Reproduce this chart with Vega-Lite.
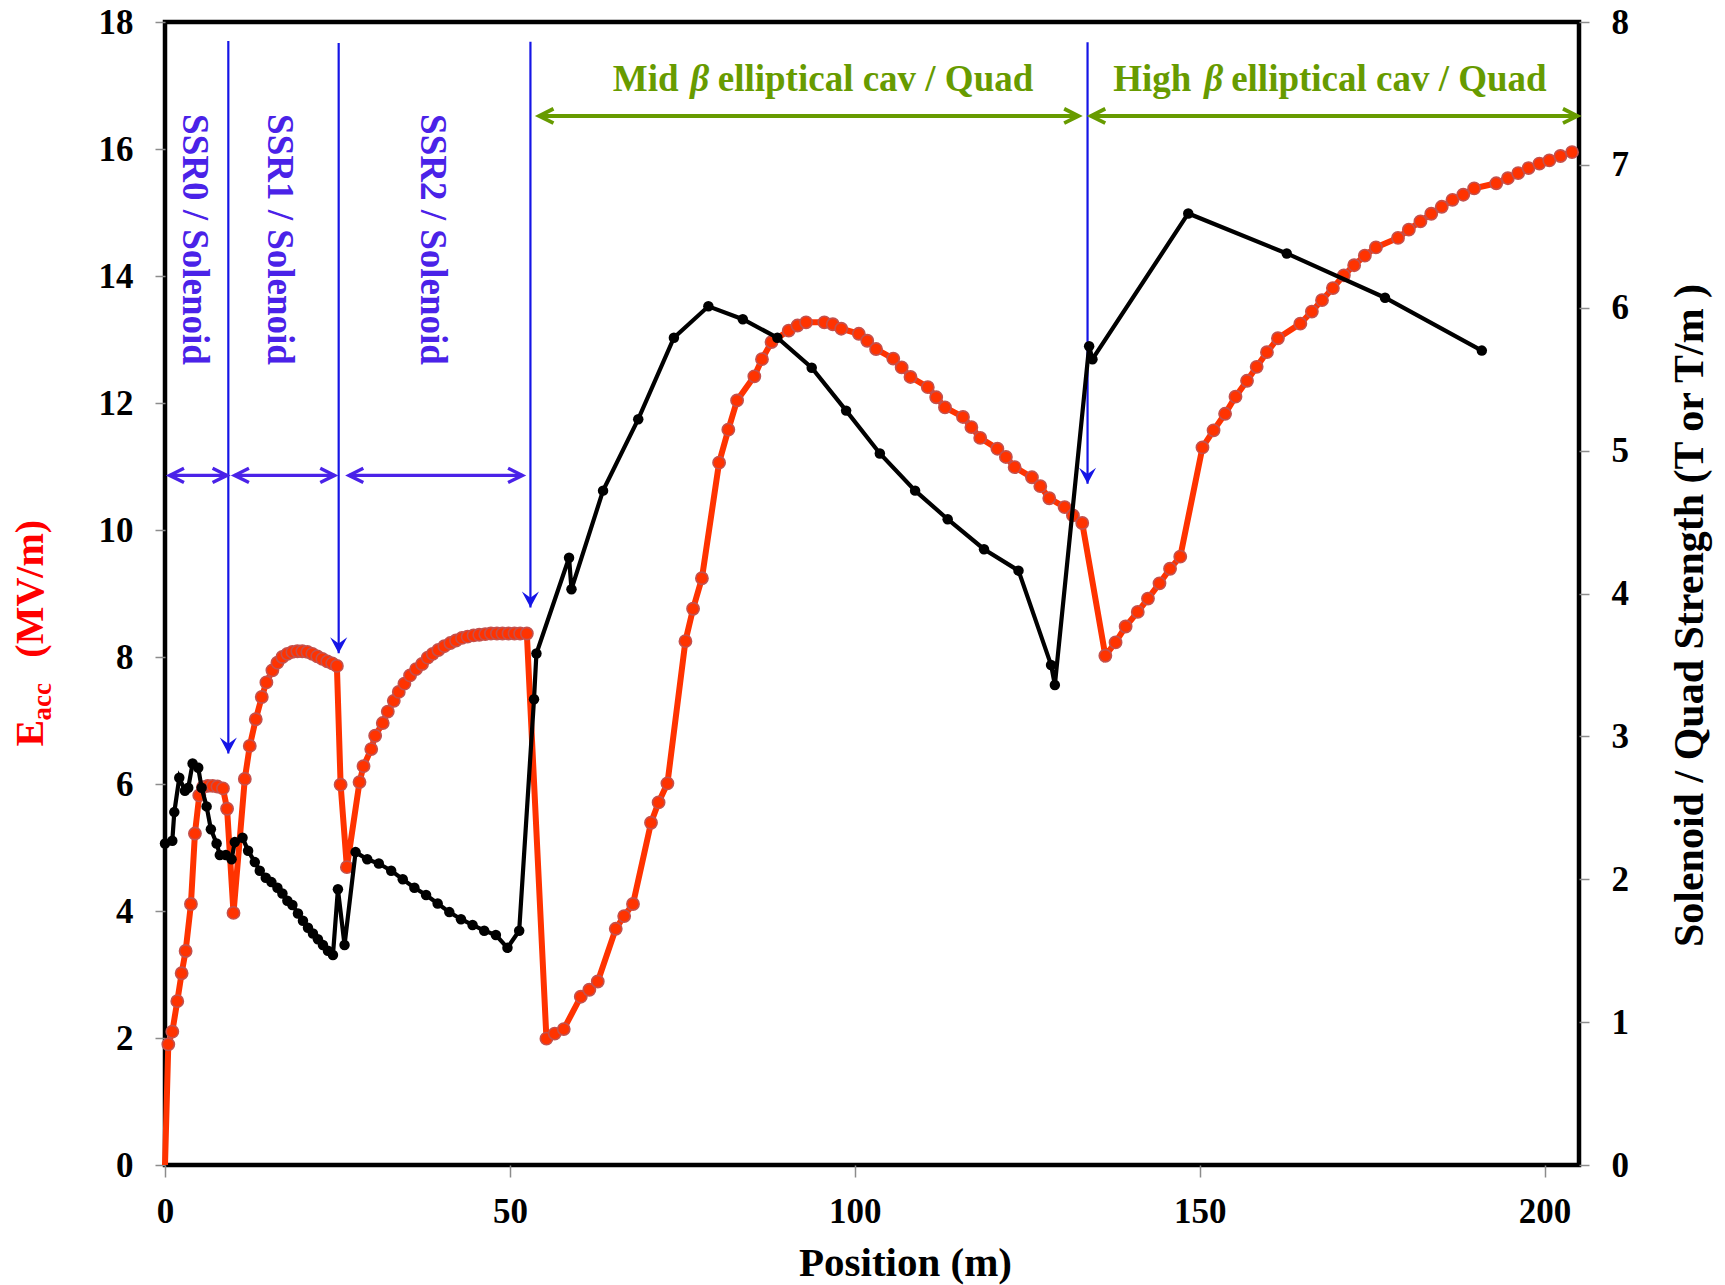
{
  "$schema": "https://vega.github.io/schema/vega-lite/v6.json",
  "width": 1414,
  "height": 1143,
  "autosize": {"type": "none"},
  "padding": {"left": 165, "top": 22, "right": 146, "bottom": 120},
  "background": "white",
  "config": {
    "font": "Liberation Serif",
    "view": {"stroke": "#000000", "strokeWidth": 4.5},
    "axis": {
      "grid": false,
      "domain": false,
      "format": "d",
      "tickColor": "#8c8c8c",
      "tickWidth": 1.5,
      "labelFont": "Liberation Serif",
      "labelFontWeight": "bold",
      "labelFontSize": 35,
      "labelColor": "#000000",
      "labelFlush": false,
      "labelOverlap": false,
      "titleFont": "Liberation Serif",
      "titleFontWeight": "bold",
      "titleFontSize": 41,
      "titleColor": "#000000"
    }
  },
  "datasets": {
    "eacc": [
      {"x": 0, "E": 0}, {"x": 0.48, "E": 1.9}, {"x": 1.06, "E": 2.1}, {"x": 1.78, "E": 2.58}, {"x": 2.41, "E": 3.02},
      {"x": 2.99, "E": 3.37}, {"x": 3.76, "E": 4.11}, {"x": 4.34, "E": 5.22}, {"x": 4.97, "E": 5.82}, {"x": 5.5, "E": 5.95},
      {"x": 6.2, "E": 5.97}, {"x": 6.9, "E": 5.97}, {"x": 7.6, "E": 5.96}, {"x": 8.4, "E": 5.93}, {"x": 9.0, "E": 5.61},
      {"x": 9.93, "E": 3.97}, {"x": 11.57, "E": 6.08}, {"x": 12.29, "E": 6.6}, {"x": 13.16, "E": 7.02}, {"x": 14.03, "E": 7.37},
      {"x": 14.7, "E": 7.6}, {"x": 15.57, "E": 7.79}, {"x": 16.3, "E": 7.91}, {"x": 17.02, "E": 8.0}, {"x": 17.74, "E": 8.05},
      {"x": 18.47, "E": 8.08}, {"x": 19.19, "E": 8.09}, {"x": 19.91, "E": 8.09}, {"x": 20.64, "E": 8.08}, {"x": 21.36, "E": 8.05},
      {"x": 22.08, "E": 8.01}, {"x": 22.81, "E": 7.97}, {"x": 23.53, "E": 7.93}, {"x": 24.25, "E": 7.9}, {"x": 24.92, "E": 7.86},
      {"x": 25.46, "E": 5.99}, {"x": 26.37, "E": 4.69}, {"x": 28.2, "E": 6.03}, {"x": 28.78, "E": 6.28}, {"x": 29.9, "E": 6.55},
      {"x": 30.47, "E": 6.76}, {"x": 31.57, "E": 6.96}, {"x": 32.3, "E": 7.14}, {"x": 33.17, "E": 7.31}, {"x": 33.89, "E": 7.45},
      {"x": 34.71, "E": 7.58}, {"x": 35.53, "E": 7.71}, {"x": 36.4, "E": 7.81}, {"x": 37.27, "E": 7.89}, {"x": 38.09, "E": 7.99},
      {"x": 38.81, "E": 8.05}, {"x": 39.63, "E": 8.11}, {"x": 40.5, "E": 8.17}, {"x": 41.37, "E": 8.22}, {"x": 42.19, "E": 8.26},
      {"x": 43.06, "E": 8.3}, {"x": 43.87, "E": 8.32}, {"x": 44.74, "E": 8.34}, {"x": 45.56, "E": 8.35}, {"x": 46.43, "E": 8.36},
      {"x": 47.25, "E": 8.37}, {"x": 48.12, "E": 8.37}, {"x": 48.93, "E": 8.37}, {"x": 49.8, "E": 8.37}, {"x": 50.67, "E": 8.37},
      {"x": 51.49, "E": 8.37}, {"x": 52.46, "E": 8.37},
      {"x": 55.3, "E": 1.99}, {"x": 56.5, "E": 2.07}, {"x": 57.81, "E": 2.14}, {"x": 60.28, "E": 2.65}, {"x": 61.52, "E": 2.76},
      {"x": 62.74, "E": 2.89}, {"x": 65.35, "E": 3.72}, {"x": 66.57, "E": 3.92}, {"x": 67.85, "E": 4.11}, {"x": 70.46, "E": 5.39},
      {"x": 71.56, "E": 5.71}, {"x": 72.84, "E": 6.01}, {"x": 75.45, "E": 8.25}, {"x": 76.56, "E": 8.76}, {"x": 77.84, "E": 9.24},
      {"x": 80.33, "E": 11.06}, {"x": 81.67, "E": 11.58}, {"x": 82.94, "E": 12.04}, {"x": 85.44, "E": 12.42}, {"x": 86.55, "E": 12.69},
      {"x": 87.93, "E": 12.96}, {"x": 90.43, "E": 13.14}, {"x": 91.7, "E": 13.22}, {"x": 92.94, "E": 13.27}, {"x": 95.59, "E": 13.27},
      {"x": 96.82, "E": 13.24}, {"x": 98.04, "E": 13.17}, {"x": 100.59, "E": 13.09}, {"x": 101.81, "E": 12.98}, {"x": 103.09, "E": 12.85},
      {"x": 105.58, "E": 12.7}, {"x": 106.8, "E": 12.56}, {"x": 108.08, "E": 12.41}, {"x": 110.59, "E": 12.25}, {"x": 111.81, "E": 12.09},
      {"x": 113.08, "E": 11.93}, {"x": 115.69, "E": 11.78}, {"x": 116.91, "E": 11.62}, {"x": 118.19, "E": 11.45}, {"x": 120.68, "E": 11.28},
      {"x": 121.91, "E": 11.15}, {"x": 123.18, "E": 10.99}, {"x": 125.69, "E": 10.83}, {"x": 126.9, "E": 10.69}, {"x": 128.2, "E": 10.5},
      {"x": 130.43, "E": 10.36}, {"x": 131.63, "E": 10.23}, {"x": 132.98, "E": 10.11},
      {"x": 136.33, "E": 8.02}, {"x": 137.81, "E": 8.23}, {"x": 139.27, "E": 8.48}, {"x": 141.03, "E": 8.71}, {"x": 142.51, "E": 8.92},
      {"x": 144.18, "E": 9.16}, {"x": 145.71, "E": 9.39}, {"x": 147.19, "E": 9.58},
      {"x": 150.41, "E": 11.3}, {"x": 152.02, "E": 11.57}, {"x": 153.69, "E": 11.83}, {"x": 155.2, "E": 12.1}, {"x": 156.87, "E": 12.35},
      {"x": 158.27, "E": 12.57}, {"x": 159.76, "E": 12.8}, {"x": 161.35, "E": 13.02},
      {"x": 164.6, "E": 13.25}, {"x": 166.27, "E": 13.44}, {"x": 167.74, "E": 13.62}, {"x": 169.32, "E": 13.81}, {"x": 170.91, "E": 14.01},
      {"x": 172.4, "E": 14.17}, {"x": 173.95, "E": 14.32}, {"x": 175.56, "E": 14.45},
      {"x": 178.76, "E": 14.6}, {"x": 180.33, "E": 14.73}, {"x": 182.01, "E": 14.86}, {"x": 183.58, "E": 14.98}, {"x": 185.1, "E": 15.09},
      {"x": 186.66, "E": 15.2}, {"x": 188.22, "E": 15.28}, {"x": 189.8, "E": 15.38},
      {"x": 193.0, "E": 15.46}, {"x": 194.69, "E": 15.54}, {"x": 196.18, "E": 15.62}, {"x": 197.68, "E": 15.7}, {"x": 199.26, "E": 15.77},
      {"x": 200.7, "E": 15.82}, {"x": 202.31, "E": 15.89}, {"x": 203.99, "E": 15.95}
    ],
    "focusing": [
      {"x": 0, "B": 2.25}, {"x": 1.06, "B": 2.27}, {"x": 1.35, "B": 2.47}, {"x": 2.07, "B": 2.71}, {"x": 2.89, "B": 2.62},
      {"x": 3.37, "B": 2.64}, {"x": 4.0, "B": 2.81}, {"x": 4.82, "B": 2.78}, {"x": 5.31, "B": 2.64}, {"x": 6.03, "B": 2.51},
      {"x": 6.65, "B": 2.35}, {"x": 7.48, "B": 2.25}, {"x": 7.95, "B": 2.17}, {"x": 8.82, "B": 2.17}, {"x": 9.65, "B": 2.14},
      {"x": 10.12, "B": 2.26}, {"x": 11.24, "B": 2.29}, {"x": 12.05, "B": 2.2}, {"x": 13.02, "B": 2.12}, {"x": 13.74, "B": 2.06},
      {"x": 14.61, "B": 2.01}, {"x": 15.43, "B": 1.98}, {"x": 16.3, "B": 1.94}, {"x": 17.02, "B": 1.9}, {"x": 17.74, "B": 1.85},
      {"x": 18.47, "B": 1.82}, {"x": 19.28, "B": 1.76}, {"x": 20.0, "B": 1.71}, {"x": 20.73, "B": 1.66}, {"x": 21.45, "B": 1.62},
      {"x": 22.17, "B": 1.58}, {"x": 22.9, "B": 1.54}, {"x": 23.62, "B": 1.5}, {"x": 24.35, "B": 1.47}, {"x": 25.07, "B": 1.93},
      {"x": 26.03, "B": 1.54}, {"x": 27.63, "B": 2.19}, {"x": 29.32, "B": 2.14}, {"x": 31.0, "B": 2.11}, {"x": 32.79, "B": 2.06},
      {"x": 34.47, "B": 2.0}, {"x": 36.16, "B": 1.94}, {"x": 37.85, "B": 1.89}, {"x": 39.53, "B": 1.83}, {"x": 41.22, "B": 1.77},
      {"x": 42.91, "B": 1.72}, {"x": 44.59, "B": 1.68}, {"x": 46.28, "B": 1.64}, {"x": 47.97, "B": 1.61}, {"x": 49.65, "B": 1.52},
      {"x": 51.35, "B": 1.64}, {"x": 53.5, "B": 3.26}, {"x": 53.85, "B": 3.58}, {"x": 58.58, "B": 4.25}, {"x": 58.93, "B": 4.03},
      {"x": 63.51, "B": 4.72}, {"x": 68.61, "B": 5.22}, {"x": 73.78, "B": 5.79}, {"x": 78.78, "B": 6.01}, {"x": 83.77, "B": 5.92},
      {"x": 88.78, "B": 5.79}, {"x": 93.76, "B": 5.58}, {"x": 98.75, "B": 5.28}, {"x": 103.64, "B": 4.98}, {"x": 108.75, "B": 4.72},
      {"x": 113.47, "B": 4.52}, {"x": 118.74, "B": 4.31}, {"x": 123.74, "B": 4.16}, {"x": 128.46, "B": 3.5}, {"x": 129.01, "B": 3.36},
      {"x": 133.98, "B": 5.73}, {"x": 134.46, "B": 5.64}, {"x": 148.35, "B": 6.66}, {"x": 162.63, "B": 6.38}, {"x": 176.88, "B": 6.07},
      {"x": 190.91, "B": 5.7}
    ],
    "boundaries": [
      {"x": 9.18, "top": 17.7, "tip": 6.48},
      {"x": 25.18, "top": 17.67, "tip": 8.06},
      {"x": 52.98, "top": 17.69, "tip": 8.78},
      {"x": 133.75, "top": 17.68, "tip": 10.73}
    ],
    "ssrSpans": [
      {"x1": 0.67, "x2": 8.98, "y": 10.86},
      {"x1": 10.09, "x2": 24.59, "y": 10.86},
      {"x1": 26.67, "x2": 51.82, "y": 10.86}
    ],
    "cavSpans": [
      {"x1": 54.24, "x2": 132.44, "y": 16.52},
      {"x1": 134.24, "x2": 204.76, "y": 16.52}
    ],
    "ssrLabels": [
      {"label": "SSR0 / Solenoid", "x": 2.6, "y": 16.55},
      {"label": "SSR1 / Solenoid", "x": 14.92, "y": 16.55},
      {"label": "SSR2 / Solenoid", "x": 37.17, "y": 16.55}
    ],
    "cavNames": [
      {"label": "Mid", "x": 74.46, "y": 16.92},
      {"label": "High", "x": 148.8, "y": 16.92}
    ],
    "cavBeta": [
      {"label": "β", "x": 77.53, "y": 16.92},
      {"label": "β", "x": 152.04, "y": 16.92}
    ],
    "cavRest": [
      {"label": "elliptical cav / Quad", "x": 80.14, "y": 16.92},
      {"label": "elliptical cav / Quad", "x": 154.57, "y": 16.92}
    ],
    "eTitleMain": [
      {"label": "E", "x": -17.75, "y": 6.59},
      {"label": "(MV/m)", "x": -17.75, "y": 7.99}
    ],
    "eTitleSub": [
      {"label": "acc", "x": -16.49, "y": 7.0}
    ]
  },
  "resolve": {"scale": {"y": "independent"}},
  "layer": [
    {
      "layer": [
        {
          "data": {"name": "boundaries"},
          "mark": {"type": "rule", "color": "#1515e6", "strokeWidth": 2.2},
          "encoding": {
            "x": {"field": "x", "type": "quantitative", "scale": {"domain": [0, 205], "nice": false}},
            "y": {"field": "top", "type": "quantitative", "scale": {"domain": [0, 18], "nice": false}},
            "y2": {"field": "tip"}
          }
        },
        {
          "data": {"name": "boundaries"},
          "mark": {"type": "point", "shape": "M0,0L-0.75,-1.4L0,-0.85L0.75,-1.4Z", "size": 520, "filled": true, "color": "#1515e6", "opacity": 1, "strokeWidth": 0},
          "encoding": {
            "x": {"field": "x", "type": "quantitative", "scale": {"domain": [0, 205], "nice": false}},
            "y": {"field": "tip", "type": "quantitative", "scale": {"domain": [0, 18], "nice": false}}
          }
        },
        {
          "data": {"name": "ssrSpans"},
          "mark": {"type": "rule", "color": "#4a22e8", "strokeWidth": 3.4},
          "encoding": {
            "x": {"field": "x1", "type": "quantitative", "scale": {"domain": [0, 205], "nice": false}},
            "x2": {"field": "x2"},
            "y": {"field": "y", "type": "quantitative", "scale": {"domain": [0, 18], "nice": false}}
          }
        },
        {
          "data": {"name": "ssrSpans"},
          "mark": {"type": "point", "shape": "M1.4,-0.7L0,0L1.4,0.7", "size": 420, "filled": false, "color": "#4a22e8", "opacity": 1, "strokeWidth": 3.4},
          "encoding": {
            "x": {"field": "x1", "type": "quantitative", "scale": {"domain": [0, 205], "nice": false}},
            "y": {"field": "y", "type": "quantitative", "scale": {"domain": [0, 18], "nice": false}}
          }
        },
        {
          "data": {"name": "ssrSpans"},
          "mark": {"type": "point", "shape": "M-1.4,-0.7L0,0L-1.4,0.7", "size": 420, "filled": false, "color": "#4a22e8", "opacity": 1, "strokeWidth": 3.4},
          "encoding": {
            "x": {"field": "x2", "type": "quantitative", "scale": {"domain": [0, 205], "nice": false}},
            "y": {"field": "y", "type": "quantitative", "scale": {"domain": [0, 18], "nice": false}}
          }
        },
        {
          "data": {"name": "cavSpans"},
          "mark": {"type": "rule", "color": "#679b00", "strokeWidth": 3.8},
          "encoding": {
            "x": {"field": "x1", "type": "quantitative", "scale": {"domain": [0, 205], "nice": false}},
            "x2": {"field": "x2"},
            "y": {"field": "y", "type": "quantitative", "scale": {"domain": [0, 18], "nice": false}}
          }
        },
        {
          "data": {"name": "cavSpans"},
          "mark": {"type": "point", "shape": "M1.4,-0.7L0,0L1.4,0.7", "size": 420, "filled": false, "color": "#679b00", "opacity": 1, "strokeWidth": 3.8},
          "encoding": {
            "x": {"field": "x1", "type": "quantitative", "scale": {"domain": [0, 205], "nice": false}},
            "y": {"field": "y", "type": "quantitative", "scale": {"domain": [0, 18], "nice": false}}
          }
        },
        {
          "data": {"name": "cavSpans"},
          "mark": {"type": "point", "shape": "M-1.4,-0.7L0,0L-1.4,0.7", "size": 420, "filled": false, "color": "#679b00", "opacity": 1, "strokeWidth": 3.8},
          "encoding": {
            "x": {"field": "x2", "type": "quantitative", "scale": {"domain": [0, 205], "nice": false}},
            "y": {"field": "y", "type": "quantitative", "scale": {"domain": [0, 18], "nice": false}}
          }
        },
        {
          "data": {"name": "ssrLabels"},
          "mark": {"type": "text", "angle": 90, "align": "left", "baseline": "alphabetic", "font": "Liberation Serif", "fontWeight": "bold", "fontSize": 37, "color": "#4a22e8"},
          "encoding": {
            "x": {"field": "x", "type": "quantitative", "scale": {"domain": [0, 205], "nice": false}},
            "y": {"field": "y", "type": "quantitative", "scale": {"domain": [0, 18], "nice": false}},
            "text": {"field": "label"}
          }
        },
        {
          "data": {"name": "cavNames"},
          "mark": {"type": "text", "align": "right", "baseline": "alphabetic", "font": "Liberation Serif", "fontWeight": "bold", "fontSize": 37, "color": "#679b00"},
          "encoding": {
            "x": {"field": "x", "type": "quantitative", "scale": {"domain": [0, 205], "nice": false}},
            "y": {"field": "y", "type": "quantitative", "scale": {"domain": [0, 18], "nice": false}},
            "text": {"field": "label"}
          }
        },
        {
          "data": {"name": "cavBeta"},
          "mark": {"type": "text", "align": "center", "baseline": "alphabetic", "font": "Liberation Serif", "fontWeight": "bold", "fontStyle": "italic", "fontSize": 37, "color": "#679b00"},
          "encoding": {
            "x": {"field": "x", "type": "quantitative", "scale": {"domain": [0, 205], "nice": false}},
            "y": {"field": "y", "type": "quantitative", "scale": {"domain": [0, 18], "nice": false}},
            "text": {"field": "label"}
          }
        },
        {
          "data": {"name": "cavRest"},
          "mark": {"type": "text", "align": "left", "baseline": "alphabetic", "font": "Liberation Serif", "fontWeight": "bold", "fontSize": 37, "color": "#679b00"},
          "encoding": {
            "x": {"field": "x", "type": "quantitative", "scale": {"domain": [0, 205], "nice": false}},
            "y": {"field": "y", "type": "quantitative", "scale": {"domain": [0, 18], "nice": false}},
            "text": {"field": "label"}
          }
        },
        {
          "data": {"name": "eTitleMain"},
          "mark": {"type": "text", "angle": 270, "align": "left", "baseline": "alphabetic", "font": "Liberation Serif", "fontWeight": "bold", "fontSize": 40, "color": "#ff0000"},
          "encoding": {
            "x": {"field": "x", "type": "quantitative", "scale": {"domain": [0, 205], "nice": false}},
            "y": {"field": "y", "type": "quantitative", "scale": {"domain": [0, 18], "nice": false}},
            "text": {"field": "label"}
          }
        },
        {
          "data": {"name": "eTitleSub"},
          "mark": {"type": "text", "angle": 270, "align": "left", "baseline": "alphabetic", "font": "Liberation Serif", "fontWeight": "bold", "fontSize": 27, "color": "#ff0000"},
          "encoding": {
            "x": {"field": "x", "type": "quantitative", "scale": {"domain": [0, 205], "nice": false}},
            "y": {"field": "y", "type": "quantitative", "scale": {"domain": [0, 18], "nice": false}},
            "text": {"field": "label"}
          }
        },
        {
          "data": {"name": "eacc"},
          "mark": {"type": "line", "color": "#ff3300", "strokeWidth": 6},
          "encoding": {
            "x": {
              "field": "x", "type": "quantitative",
              "scale": {"domain": [0, 205], "nice": false},
              "axis": {"title": "Position (m)", "values": [0, 50, 100, 150, 200], "tickSize": 12, "labelPadding": 17, "titleX": 740, "titleY": 110, "titleAlign": "center", "titleBaseline": "alphabetic"}
            },
            "y": {
              "field": "E", "type": "quantitative",
              "scale": {"domain": [0, 18], "nice": false},
              "axis": {"title": null, "orient": "left", "values": [0, 2, 4, 6, 8, 10, 12, 14, 16, 18], "tickSize": 10, "labelPadding": 22}
            }
          }
        },
        {
          "data": {"name": "eacc"},
          "transform": [{"filter": "datum.E > 0"}],
          "mark": {"type": "point", "shape": "circle", "filled": true, "size": 150, "fill": "#ff3300", "stroke": "#c4504c", "strokeWidth": 1.6, "opacity": 1},
          "encoding": {
            "x": {"field": "x", "type": "quantitative", "scale": {"domain": [0, 205], "nice": false}},
            "y": {"field": "E", "type": "quantitative", "scale": {"domain": [0, 18], "nice": false}}
          }
        }
      ]
    },
    {
      "layer": [
        {
          "data": {"name": "focusing"},
          "mark": {"type": "line", "color": "#000000", "strokeWidth": 4.2},
          "encoding": {
            "x": {"field": "x", "type": "quantitative", "scale": {"domain": [0, 205], "nice": false}},
            "y": {
              "field": "B", "type": "quantitative",
              "scale": {"domain": [0, 8], "nice": false},
              "axis": {"orient": "right", "title": "Solenoid / Quad Strength (T or T/m )", "values": [0, 1, 2, 3, 4, 5, 6, 7, 8], "tickSize": 10, "labelPadding": 22, "titleAngle": 270, "titleX": 123, "titleY": 593, "titleAlign": "center", "titleBaseline": "alphabetic", "titleFontSize": 42}
            }
          }
        },
        {
          "data": {"name": "focusing"},
          "mark": {"type": "point", "shape": "circle", "filled": true, "size": 110, "color": "#000000", "opacity": 1},
          "encoding": {
            "x": {"field": "x", "type": "quantitative", "scale": {"domain": [0, 205], "nice": false}},
            "y": {"field": "B", "type": "quantitative", "scale": {"domain": [0, 8], "nice": false}}
          }
        }
      ]
    }
  ]
}
